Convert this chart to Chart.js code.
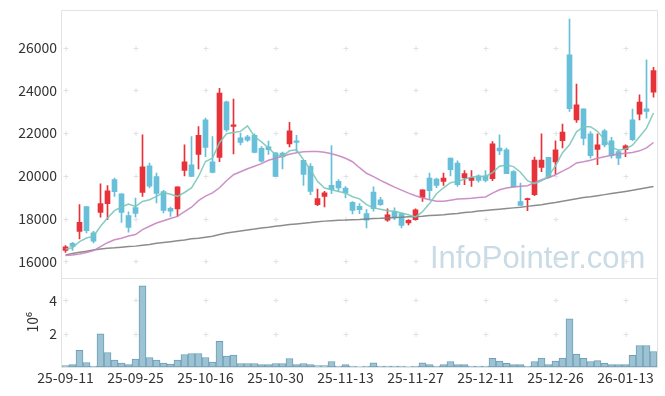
<!DOCTYPE html>
<html>
<head>
<meta charset="utf-8">
<script src="https://cdn.jsdelivr.net/npm/chart.js@4.4.1/dist/chart.umd.min.js"></script>
<style>
html, body { margin: 0; padding: 0; background: #fff; }
#wrap { position: relative; width: 665px; height: 396px; }
</style>
</head>
<body>
<div id="wrap"><canvas id="chart" width="665" height="396"></canvas></div>
<script>
// trading days
const dates = [
	'25-09-11','25-09-12','25-09-15','25-09-16','25-09-17','25-09-18','25-09-19','25-09-22','25-09-23','25-09-24',
	'25-09-25','25-09-26','25-09-29','25-09-30','25-10-01','25-10-02','25-10-10','25-10-13','25-10-14','25-10-15',
	'25-10-16','25-10-17','25-10-20','25-10-21','25-10-22','25-10-23','25-10-24','25-10-27','25-10-28','25-10-29',
	'25-10-30','25-10-31','25-11-03','25-11-04','25-11-05','25-11-06','25-11-07','25-11-10','25-11-11','25-11-12',
	'25-11-13','25-11-14','25-11-17','25-11-18','25-11-19','25-11-20','25-11-21','25-11-24','25-11-25','25-11-26',
	'25-11-27','25-11-28','25-12-01','25-12-02','25-12-03','25-12-04','25-12-05','25-12-08','25-12-09','25-12-10',
	'25-12-11','25-12-12','25-12-15','25-12-16','25-12-17','25-12-18','25-12-19','25-12-22','25-12-23','25-12-24',
	'25-12-26','25-12-29','25-12-30','26-01-02','26-01-05','26-01-06','26-01-07','26-01-08','26-01-09','26-01-12',
	'26-01-13','26-01-14','26-01-15','26-01-16','26-01-19'
];

const open = [
	16510,16840,17400,18560,17330,18290,18700,19820,19160,18140,
	18510,19220,20470,19960,19260,18480,18450,20250,20520,21000,
	22620,20660,20860,23460,22310,21780,21830,21900,21290,21360,
	21080,21070,21490,21640,20720,20440,18650,19040,19550,19740,
	19430,18760,18570,18230,19240,18880,17920,18340,18230,17800,
	17950,18990,19900,19850,19740,20830,20600,19900,19790,20000,
	20000,19870,21300,21220,20200,18800,18880,19120,20390,20860,
	20650,21650,25660,22620,23140,21970,21230,22110,21640,21140,
	21220,22620,22890,23140,23920
];
const high = [
	16730,16890,18650,18560,17400,19630,19540,19900,19160,18310,
	18960,21920,20600,20130,19320,18540,19490,21450,21840,22310,
	22700,21840,24100,23500,23590,22000,21890,21970,21370,21630,
	21090,21110,22500,21890,20720,20570,19380,19270,21410,19820,
	19500,18800,18700,18420,19480,18990,18450,18500,18260,17950,
	18450,19350,20130,19900,20130,20830,20700,20240,20240,20050,
	20240,21600,21920,21300,20240,19660,18960,20880,21970,20860,
	21640,22420,27330,24290,23140,22070,21970,22180,21800,21220,
	21450,23120,23790,25430,25080
];
const low = [
	16420,16510,17050,17330,16860,18060,17950,19040,17820,17360,
	18080,19040,19430,18730,18260,18100,18100,20000,19970,20320,
	20900,20130,20660,22080,21020,21450,21610,21070,20640,21000,
	19970,20320,21350,21140,19550,19120,18600,18540,19160,19270,
	18960,18220,18230,17560,18340,18620,17870,17950,17560,17700,
	17920,18800,18880,19450,19550,20000,19500,19590,19500,19700,
	19710,19770,20990,20100,19480,18620,18370,19070,20200,19900,
	20090,21300,23010,22500,21450,20830,20520,21350,20830,20520,
	20900,21650,22620,22700,23680
];
const close = [
	16680,16700,17820,17430,16940,18700,19300,19260,18290,17580,
	18240,20420,19510,19180,18380,18340,19490,20660,19970,21890,
	21330,20160,23870,22150,22390,21560,21670,21090,20690,21220,
	19970,20880,22110,21560,20070,19270,18930,19200,19350,19430,
	19200,18380,18420,17920,18460,18650,18180,18030,17680,17920,
	18410,19350,19300,19550,19900,20290,19590,20100,19920,19790,
	19790,21500,21170,20100,19480,18620,18930,20740,20740,19940,
	21220,22050,23140,23320,21750,20940,21450,21450,20940,20830,
	21400,21690,23450,23010,24930
];

// moving averages
const ma5 = [
	16580,16630,16920,17090,17170,17640,18030,18370,18540,18680,
	18570,18800,18880,19040,19220,19140,19040,19220,19430,19970,
	20670,20830,21550,21970,22030,22080,22340,21840,21590,21300,
	20990,20910,21170,21220,20750,20290,19740,19430,19350,19270,
	19200,19020,18920,18650,18500,18440,18370,18340,18260,18180,
	18080,18320,18700,19160,19440,19680,19740,19840,19940,19970,
	19970,20150,20450,20500,20430,20170,19770,19630,19770,19980,
	20470,21080,21450,22060,22300,22300,22080,21690,21340,21200,
	21250,21430,21830,22230,22940
];
const ma20 = [
	16270,16290,16340,16410,16500,16690,16870,17010,17080,17180,
	17250,17480,17640,17790,17900,18000,18100,18320,18530,18840,
	19050,19200,19440,19770,20050,20190,20330,20450,20570,20730,
	20820,20920,21010,21080,21130,21140,21140,21100,21030,20940,
	20820,20660,20380,20120,19960,19790,19630,19470,19330,19190,
	19070,18960,18880,18810,18810,18860,18910,18930,18950,18980,
	19010,19190,19350,19430,19480,19510,19540,19680,19820,19910,
	20050,20220,20380,20600,20660,20730,20820,20890,20960,21020,
	21060,21090,21170,21310,21560
];
const ma60 = [
	16300,16360,16420,16470,16530,16580,16610,16630,16660,16690,
	16710,16750,16790,16840,16880,16920,16960,17000,17050,17080,
	17130,17170,17250,17320,17370,17420,17470,17510,17560,17590,
	17640,17680,17720,17750,17780,17810,17850,17880,17900,17920,
	17930,17950,17960,17980,18000,18010,18030,18050,18060,18080,
	18090,18110,18140,18160,18180,18210,18240,18280,18310,18350,
	18380,18410,18440,18470,18500,18530,18570,18610,18650,18700,
	18750,18810,18870,18930,18980,19020,19070,19120,19170,19220,
	19270,19320,19380,19440,19500
];

// volume, millions of shares
const volume = [
	0.08,0.15,1.00,0.27,0.06,1.99,0.87,0.41,0.23,0.15,
	0.47,4.87,0.57,0.41,0.23,0.17,0.41,0.75,0.81,0.81,
	0.57,0.29,1.54,0.65,0.71,0.21,0.21,0.21,0.15,0.15,
	0.21,0.21,0.51,0.15,0.21,0.15,0.08,0.08,0.33,0.06,
	0.15,0.06,0.02,0.06,0.25,0.06,0.06,0.06,0.06,0.02,
	0.06,0.25,0.15,0.06,0.15,0.33,0.15,0.15,0.06,0.06,
	0.06,0.52,0.35,0.22,0.15,0.15,0.06,0.33,0.53,0.15,
	0.35,0.53,2.90,0.77,0.52,0.33,0.38,0.22,0.15,0.15,
	0.15,0.70,1.29,1.29,0.93
];

const priceTicks = [16000, 18000, 20000, 22000, 24000, 26000];
const volumeTicks = [2, 4];

var UP = '#e8323a';
var DOWN = '#67bfd9';
var FONT = '"Noto Sans CJK KR", "Noto Sans", sans-serif';
var TEXT = '#333';

var candleColor = dates.map(function (d, i) {
	return close[i] >= open[i] ? UP : DOWN;
});

// borders, "+" grid marks and the watermark
var decor = {
	id: 'decor',
	beforeDatasetsDraw: function (chart) {
		var ctx = chart.ctx;
		var a = chart.chartArea;
		var x = chart.scales.x, y = chart.scales.y, yv = chart.scales.yv;
		ctx.save();

		ctx.font = '31px "Liberation Sans", Arial, sans-serif';
		ctx.fillStyle = '#c9dbe5';
		ctx.textBaseline = 'alphabetic';
		ctx.fillText('InfoPointer.com', 430, 268);

		ctx.strokeStyle = '#e3e3e3';
		ctx.lineWidth = 1;
		var l = Math.round(a.left) - 0.5, r = Math.round(a.right) + 0.5;
		var t = Math.round(a.top) + 0.5, m = Math.round(y.bottom) + 0.5, b = Math.round(a.bottom) + 0.5;
		ctx.beginPath();
		ctx.moveTo(l, t); ctx.lineTo(r, t);
		ctx.moveTo(l, m); ctx.lineTo(r, m);
		ctx.moveTo(l, b); ctx.lineTo(r, b);
		ctx.moveTo(l, t); ctx.lineTo(l, b);
		ctx.moveTo(r, t); ctx.lineTo(r, b);
		ctx.stroke();

		ctx.strokeStyle = '#e2e2e2';
		ctx.beginPath();
		function plus(px, py) {
			px = Math.round(px) - 0.5; py = Math.round(py) + 0.5;
			ctx.moveTo(px - 2, py); ctx.lineTo(px + 3, py);
			ctx.moveTo(px + 0.5, py - 2.5); ctx.lineTo(px + 0.5, py + 2.5);
		}
		for (var i = 0; i < dates.length; i += 10) {
			var px = x.getPixelForValue(i);
			priceTicks.forEach(function (v) { plus(px, y.getPixelForValue(v)); });
			volumeTicks.forEach(function (v) { plus(px, yv.getPixelForValue(v)); });
		}
		ctx.stroke();
		ctx.restore();
	}
};

function plainTick(v) { return String(v); }
function fixWidth(s) { s.width = 62; s.paddingTop = 0; s.paddingBottom = 0; }

new Chart(document.getElementById('chart'), {
	type: 'bar',
	data: {
		labels: dates,
		datasets: [
			{
				type: 'line', label: 'MA5', data: ma5, yAxisID: 'y', order: 0,
				borderColor: 'rgba(120,198,186,0.9)', borderWidth: 1.5, pointRadius: 0, tension: 0
			},
			{
				type: 'line', label: 'MA20', data: ma20, yAxisID: 'y', order: 0,
				borderColor: 'rgba(198,132,192,0.9)', borderWidth: 1.5, pointRadius: 0, tension: 0
			},
			{
				type: 'line', label: 'MA60', data: ma60, yAxisID: 'y', order: 0,
				borderColor: 'rgba(128,128,128,0.9)', borderWidth: 1.5, pointRadius: 0, tension: 0
			},
			{
				label: 'body', yAxisID: 'y', order: 1, grouped: false,
				data: dates.map(function (d, i) { return [open[i], close[i]]; }),
				backgroundColor: candleColor, barThickness: 5, borderWidth: 0
			},
			{
				label: 'wick', yAxisID: 'y', order: 2, grouped: false,
				data: dates.map(function (d, i) { return [low[i], high[i]]; }),
				backgroundColor: candleColor, barThickness: 1, borderWidth: 0
			},
			{
				label: 'volume', yAxisID: 'yv', order: 3, grouped: false,
				data: volume,
				backgroundColor: '#9cc2d3', borderColor: '#6d9fb8', borderWidth: 1,
				borderSkipped: false, barPercentage: 1, categoryPercentage: 1
			}
		]
	},
	options: {
		responsive: false,
		animation: false,
		layout: { padding: { left: 0, right: 8, top: 10, bottom: 0 } },
		plugins: { legend: { display: false }, tooltip: { enabled: false } },
		scales: {
			x: {
				offset: true,
				grid: { display: false, drawTicks: false },
				border: { display: false },
				ticks: {
					autoSkip: false, maxRotation: 0, minRotation: 0, padding: 2,
					color: TEXT, font: { family: FONT, size: 14 },
					callback: function (v, i) { return i % 10 === 0 ? dates[i] : ''; }
				},
				afterFit: function (s) { s.height = 29; }
			},
			y: {
				position: 'left', stack: 'panels', stackWeight: 3, weight: 2,
				min: 15230, max: 27760,
				grid: { display: false, drawTicks: false },
				border: { display: false },
				afterBuildTicks: function (s) { s.ticks = priceTicks.map(function (v) { return { value: v }; }); },
				ticks: { padding: 5, color: TEXT, font: { family: FONT, size: 14 }, callback: plainTick },
				afterFit: fixWidth
			},
			yv: {
				position: 'left', stack: 'panels', stackWeight: 1, weight: 1,
				min: 0, max: 5.36,
				grid: { display: false, drawTicks: false },
				border: { display: false },
				afterBuildTicks: function (s) { s.ticks = volumeTicks.map(function (v) { return { value: v }; }); },
				ticks: { padding: 5, color: TEXT, font: { family: FONT, size: 14 }, callback: plainTick },
				title: { display: true, text: '10⁶', color: TEXT, font: { family: FONT, size: 14 }, padding: { top: 24, bottom: 0 } },
				afterFit: fixWidth
			}
		}
	},
	plugins: [decor]
});
</script>
</body>
</html>
